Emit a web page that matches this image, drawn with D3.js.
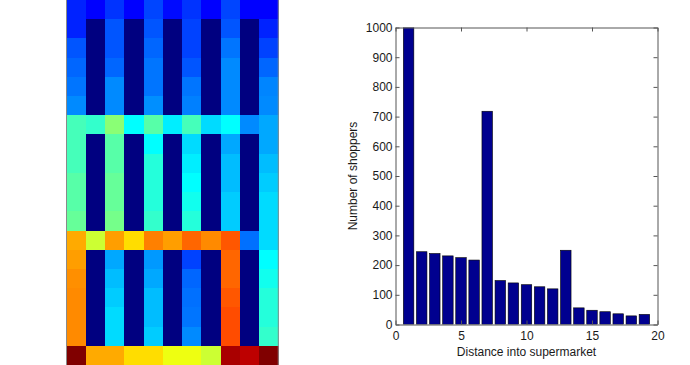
<!DOCTYPE html>
<html>
<head>
<meta charset="utf-8">
<script src="https://cdn.jsdelivr.net/npm/d3@7/dist/d3.min.js"></script>
<style>
  html, body { margin: 0; padding: 0; background: #fff; }
  svg { display: block; font-family: "Liberation Sans", Arial, Helvetica, sans-serif; }
</style>
</head>
<body>
<svg id="chart" width="690" height="365"></svg>
<script>
// ---------- DATA ----------
// Heatmap (supermarket floor plan), level on jet scale 0..1, rows top->bottom
const heatRows = [
  [0.158, 0.125, 0.175, 0.125, 0.193, 0.135, 0.175, 0.125, 0.193, 0.125, 0.125],
  [0.158, 0, 0.208, 0, 0.208, 0, 0.190, 0, 0.208, 0, 0.158],
  [0.208, 0, 0.208, 0, 0.225, 0, 0.190, 0, 0.240, 0, 0.190],
  [0.225, 0, 0.225, 0, 0.240, 0, 0.208, 0, 0.260, 0, 0.225],
  [0.240, 0, 0.260, 0, 0.240, 0, 0.240, 0, 0.260, 0, 0.255],
  [0.260, 0, 0.260, 0, 0.265, 0, 0.250, 0, 0.260, 0, 0.260],
  [0.443, 0.425, 0.510, 0.375, 0.460, 0.358, 0.443, 0.340, 0.375, 0.260, 0.290],
  [0.443, 0, 0.460, 0, 0.375, 0, 0.340, 0, 0.290, 0, 0.290],
  [0.443, 0, 0.460, 0, 0.410, 0, 0.358, 0, 0.310, 0, 0.310],
  [0.460, 0, 0.475, 0, 0.410, 0, 0.375, 0, 0.310, 0, 0.325],
  [0.460, 0, 0.475, 0, 0.410, 0, 0.392, 0, 0.325, 0, 0.340],
  [0.475, 0, 0.490, 0, 0.425, 0, 0.410, 0, 0.325, 0, 0.340],
  [0.708, 0.575, 0.720, 0.658, 0.750, 0.720, 0.775, 0.740, 0.790, 0.235, 0.340],
  [0.720, 0, 0.290, 0, 0.275, 0, 0.190, 0, 0.775, 0, 0.375],
  [0.735, 0, 0.310, 0, 0.290, 0, 0.225, 0, 0.775, 0, 0.392],
  [0.740, 0, 0.325, 0, 0.310, 0, 0.235, 0, 0.790, 0, 0.410],
  [0.740, 0, 0.340, 0, 0.310, 0, 0.240, 0, 0.800, 0, 0.410],
  [0.740, 0, 0.340, 0, 0.325, 0, 0.260, 0, 0.800, 0, 0.425],
  [1.000, 0.708, 0.708, 0.658, 0.658, 0.608, 0.608, 0.575, 0.960, 0.940, 1.000]
];

// Histogram
const distances = [1,2,3,4,5,6,7,8,9,10,11,12,13,14,15,16,17,18,19];
const shoppers  = [1000,245,239,231,225,217,718,148,140,134,127,120,250,56,48,43,36,29,34];
const xTicks = [0,5,10,15,20];
const yTicks = [0,100,200,300,400,500,600,700,800,900,1000];

// ---------- DRAW ----------
const svg = d3.select("#chart");

// Jet colormap
const jet = d3.scaleLinear()
  .domain([0, 0.125, 0.375, 0.625, 0.875, 1])
  .range(["#000080", "#0000ff", "#00ffff", "#ffff00", "#ff0000", "#800000"])
  .clamp(true);

const nCols = heatRows[0].length, nRows = heatRows.length;
const hx = d3.scaleBand().domain(d3.range(nCols)).range([66.7, 278.3]);
const hy = d3.scaleBand().domain(d3.range(nRows)).range([0, 365]);

const cells = [];
heatRows.forEach((row, r) => row.forEach((v, c) => cells.push({r, c, v})));

const hm = svg.append("g");
hm.selectAll("rect").data(cells).join("rect")
  .attr("x", d => hx(d.c))
  .attr("y", d => hy(d.r))
  .attr("width", hx.bandwidth() + 0.5)
  .attr("height", hy.bandwidth() + 0.5)
  .attr("fill", d => jet(d.v))
  .attr("shape-rendering", "crispEdges");

hm.append("rect")
  .attr("x", 66.5).attr("y", -1)
  .attr("width", 211.8).attr("height", 367)
  .attr("fill", "none").attr("stroke", "#8a8a8a").attr("stroke-width", 1);

// Bar chart
const x = d3.scaleLinear().domain([0, 20]).range([395.5, 657.5]);
const y = d3.scaleLinear().domain([0, 1000]).range([324.5, 27.5]);

const g = svg.append("g");
g.append("defs").append("clipPath").attr("id", "clip")
  .append("rect").attr("x", x(0)).attr("y", y(1000))
  .attr("width", x(20) - x(0)).attr("height", y(0) - y(1000));

g.append("g").attr("clip-path", "url(#clip)")
  .selectAll("rect").data(distances).join("rect")
  .attr("x", (d) => x(d - 0.4))
  .attr("width", (d) => x(d + 0.4) - x(d - 0.4))
  .attr("y", (d, i) => y(shoppers[i]))
  .attr("height", (d, i) => y(0) - y(shoppers[i]))
  .attr("fill", "#00008f")
  .attr("stroke", "#000")
  .attr("stroke-width", 0.6);

const axisColor = "#555";
const tickLen = 4;
const fmt = d3.format("d");

// bottom axis
const xAxis = d3.axisBottom(x).tickValues(xTicks).tickFormat(fmt).tickSizeInner(-tickLen).tickSizeOuter(0).tickPadding(7);
const gx = g.append("g").attr("transform", `translate(0,${y(0)})`).call(xAxis);
// left axis
const yAxis = d3.axisLeft(y).tickValues(yTicks).tickFormat(fmt).tickSizeInner(-tickLen).tickSizeOuter(0).tickPadding(3);
const gy = g.append("g").attr("transform", `translate(${x(0)},0)`).call(yAxis);
// top axis (ticks only)
const xTop = d3.axisTop(x).tickValues(xTicks).tickSizeInner(-tickLen).tickSizeOuter(0).tickFormat("");
const gt = g.append("g").attr("transform", `translate(0,${y(1000)})`).call(xTop);
// right axis (ticks only)
const yRight = d3.axisRight(y).tickValues(yTicks).tickSizeInner(-tickLen).tickSizeOuter(0).tickFormat("");
const gr = g.append("g").attr("transform", `translate(${x(20)},0)`).call(yRight);

[gx, gy, gt, gr].forEach(a => {
  a.selectAll("path.domain").attr("stroke", axisColor);
  a.selectAll(".tick line").attr("stroke", axisColor);
  a.selectAll("text").attr("font-size", 12).attr("fill", "#1a1a1a")
    .attr("font-family", "'Liberation Sans', Arial, Helvetica, sans-serif");
});

// labels
g.append("text")
  .attr("x", (x(0) + x(20)) / 2).attr("y", 356)
  .attr("text-anchor", "middle").attr("font-size", 12).attr("fill", "#1a1a1a")
  .text("Distance into supermarket");

g.append("text")
  .attr("transform", `translate(357,${(y(0) + y(1000)) / 2}) rotate(-90)`)
  .attr("text-anchor", "middle").attr("font-size", 12).attr("fill", "#1a1a1a")
  .text("Number of shoppers");
</script>
</body>
</html>
